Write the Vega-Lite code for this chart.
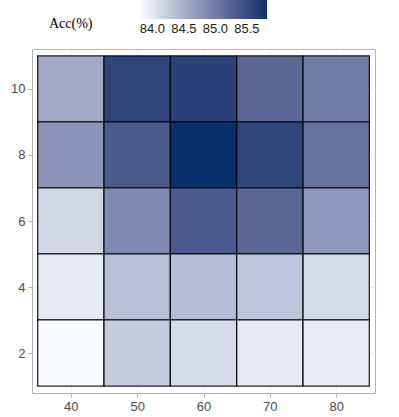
{
  "$schema": "https://vega.github.io/schema/vega-lite/v6.json",
  "width": 343,
  "height": 344,
  "autosize": "none",
  "padding": {"left": 32, "top": 49, "right": 24, "bottom": 24},
  "background": "white",
  "config": {
    "view": {"stroke": "#b3b3b3", "strokeWidth": 1},
    "axis": {
      "domain": false,
      "tickColor": "#b3b3b3",
      "tickSize": 4,
      "labelColor": "#4d4d4d",
      "labelFont": "Liberation Sans",
      "labelFontSize": 13,
      "gridColor": "#e6e6e6",
      "gridWidth": 0.6,
      "labelPadding": 3
    }
  },
  "data": {
    "values": [
      {"x": 40, "y": 10, "acc": 84.55}, {"x": 50, "y": 10, "acc": 85.58}, {"x": 60, "y": 10, "acc": 85.62}, {"x": 70, "y": 10, "acc": 85.2}, {"x": 80, "y": 10, "acc": 85.0},
      {"x": 40, "y": 8, "acc": 84.76}, {"x": 50, "y": 8, "acc": 85.34}, {"x": 60, "y": 8, "acc": 85.82}, {"x": 70, "y": 8, "acc": 85.58}, {"x": 80, "y": 8, "acc": 85.1},
      {"x": 40, "y": 6, "acc": 84.14}, {"x": 50, "y": 6, "acc": 84.86}, {"x": 60, "y": 6, "acc": 85.34}, {"x": 70, "y": 6, "acc": 85.2}, {"x": 80, "y": 6, "acc": 84.72},
      {"x": 40, "y": 4, "acc": 83.97}, {"x": 50, "y": 4, "acc": 84.36}, {"x": 60, "y": 4, "acc": 84.38}, {"x": 70, "y": 4, "acc": 84.3}, {"x": 80, "y": 4, "acc": 84.1},
      {"x": 40, "y": 2, "acc": 83.82}, {"x": 50, "y": 2, "acc": 84.24}, {"x": 60, "y": 2, "acc": 84.1}, {"x": 70, "y": 2, "acc": 83.97}, {"x": 80, "y": 2, "acc": 83.95}
    ]
  },
  "mark": {"type": "square", "size": 4390, "stroke": "black", "strokeWidth": 1.3, "opacity": 1, "filled": true, "strokeOpacity": 0.85},
  "encoding": {
    "x": {
      "field": "x", "type": "quantitative",
      "scale": {"domain": [34.15, 85.85], "nice": false, "zero": false},
      "axis": {"values": [40, 50, 60, 70, 80], "title": null}
    },
    "y": {
      "field": "y", "type": "quantitative",
      "scale": {"domain": [0.79, 11.21], "nice": false, "zero": false},
      "axis": {"values": [2, 4, 6, 8, 10], "title": null}
    },
    "fill": {
      "field": "acc", "type": "quantitative",
      "scale": {"domain": [83.82, 85.82], "range": ["#f7fbff", "#08306b"], "interpolate": "lab"},
      "legend": {
        "title": "Acc(%)",
        "orient": "none",
        "direction": "horizontal",
        "legendX": 17,
        "legendY": -49,
        "padding": 0,
        "titleOrient": "left",
        "titleFont": "Liberation Serif",
        "titleFontSize": 14,
        "titleFontWeight": "normal",
        "titleColor": "black",
        "titleBaseline": "line-top",
        "titleLineHeight": 27,
        "titlePadding": 48,
        "gradientLength": 126,
        "gradientThickness": 19,
        "gradientStrokeWidth": 0,
        "values": [84.0, 84.5, 85.0, 85.5],
        "format": ".1f",
        "labelFont": "Liberation Sans",
        "labelFontSize": 13,
        "labelColor": "#1a1a1a",
        "labelOffset": 4
      }
    }
  }
}
